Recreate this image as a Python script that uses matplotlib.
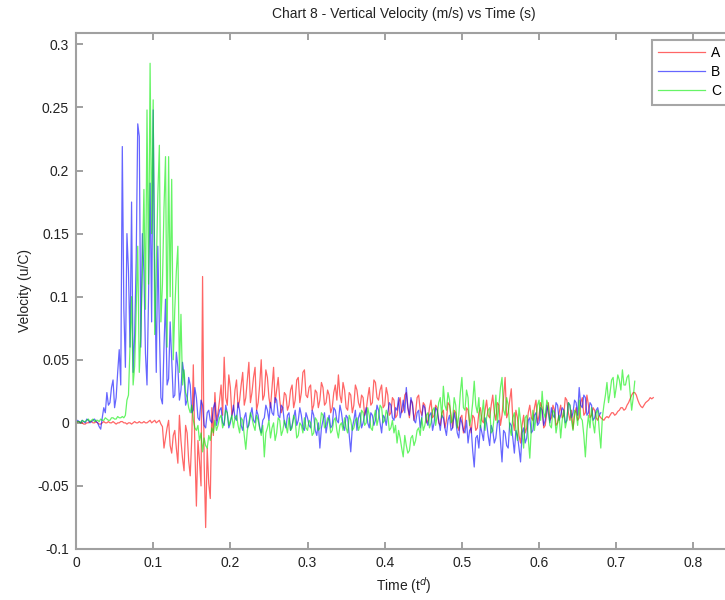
import numpy as np
import matplotlib
matplotlib.use("Agg")
import matplotlib.pyplot as plt
from matplotlib.ticker import FuncFormatter, MultipleLocator

plt.rcParams['font.family'] = ['Liberation Sans', 'DejaVu Sans']
plt.rcParams['axes.unicode_minus'] = False

# sample spacing of all three records (s)
dt = 0.002

# vertical velocity records, in thousandths
vel_a = [
    0, 1, 1, 0, 0, -1, -1, 0, 0, 1, 1, 0, 0, 1, 0, -1, -1, 0, 1, 0,
    0, 1, 0, 0, 1, 0, -1, 0, 0, 1, 1, 0, 0, -1, 0, 0, -1, 0, 1, 0,
    0, 1, 0, 0, 1, 0, 0, 1, 2, 0, 1, 2, 0, 1, 2, -1, -3, -20, -12, -4,
    2, -18, -24, -10, -6, -20, -32, 6, -14, -28, -38, -2, -8, -30, -42, -12, 46, -20, -66, -14,
    -30, -50, 116, -30, -83, -20, -48, -60, 12, -10, 24, 2, 8, 18, 30, 6, 52, 20, 14, 38,
    28, 6, 10, 26, 34, 12, 18, 30, 40, 14, 20, 34, 48, 16, 24, 36, 44, 10, 16, 30,
    50, 18, 22, 42, 36, 20, 12, 28, 44, 16, 26, 36, 18, 8, 12, 24, 22, 10, 14, 26,
    30, 12, 18, 34, 36, 16, 24, 40, 42, 22, 20, 28, 30, 10, 14, 26, 24, 12, 18, 32,
    28, 14, 16, 26, 22, 8, 12, 24, 30, 18, 38, 22, 16, 32, 26, 12, 10, 24, 22, 8,
    14, 30, 26, 16, 12, 22, 20, 6, 10, 20, 28, 14, 16, 34, 32, 20, 18, 26, 30, 12,
    14, 28, 22, 6, 8, 20, 18, 4, 6, 16, 20, 8, 10, 22, 24, 12, 4, 18, 16, 2,
    8, 20, 22, 10, 6, 16, 14, 0, 2, 12, 18, 4, 6, 14, 12, 0, -2, 8, 10, -4,
    2, 16, 14, 6, -4, 10, 8, -2, -6, 4, 6, -8, -2, 12, 10, 0, -8, 6, 4, -6,
    -4, 8, 12, 2, 0, 10, 18, 6, 4, 14, 22, 8, 2, 16, 14, -2, 6, 20, 36, 4,
    8, 18, 27, 2, -6, 10, 4, -10, -16, -2, 6, -8, -4, 8, 14, 4, 2, 12, 18, 0,
    6, 16, 12, -4, -2, 8, 16, 2, 4, 14, 10, -2, 0, 8, 14, 4, 6, 20, 18, 8,
    2, 10, -5, 6, 12, 2, 4, 16, 20, 6, 8, 22, 14, 4, 6, 12, 10, 4, 2, 6,
    4, 3, 2, 4, 5, 4, 6, 8, 8, 6, 7, 9, 10, 12, 12, 10, 11, 14, 16, 19,
    22, 24, 24, 22, 18, 15, 13, 12, 14, 16, 17, 18, 20, 19, 20,
]

vel_b = [
    0, 2, 1, 0, 2, 1, 0, 3, 2, 0, 1, 2, 3, 1, 0, -3, -5, 4, 12, 8,
    24, 14, 16, 28, 34, 12, 20, 40, 58, 30, 219, 90, 44, 150, 120, 60, 175, 40, 70, 130,
    237, 227, 60, 150, 120, 55, 30, 100, 190, 80, 248, 120, 40, 140, 76, 20, 15, 60, 98, 30,
    35, 80, 50, 20, 22, 56, 44, 18, 26, 48, 38, 14, 18, 36, 30, 8, 10, 28, 20, 4,
    2, 18, 14, -2, -4, 8, 10, 2, 0, 12, 16, -2, 4, 10, 12, 0, -2, 14, 8, -4,
    0, 6, 14, 4, 2, 16, 10, -2, -6, 4, 8, -4, -2, 6, 12, 2, 0, 10, 6, -4,
    -8, 2, 4, 14, 10, 2, 16, 8, 6, 20, 18, 6, 4, 14, 12, 0, -4, 6, 8, -6,
    -2, 4, 10, -2, 2, 12, 6, -4, -6, 8, 4, -2, -4, 10, 6, -6, -10, 0, -20, -4,
    2, 8, -8, 0, 6, -4, -2, 12, 10, 2, 0, 14, 8, -2, -6, 6, 4, -10, -23, -4,
    2, 10, -6, 4, 8, -4, 0, 6, 12, 0, -4, 8, 6, -2, 2, 14, 10, 0, -8, 6,
    4, -2, 8, 16, 14, 4, 2, 12, 10, 20, 4, 10, 18, 8, 28, 12, 6, 20, 14, 2,
    0, 8, 10, -4, 4, 14, 12, 2, -2, 6, 8, -6, 0, 12, 10, 2, -6, 6, 4, -4,
    -10, 2, 6, -6, -4, 8, 2, -8, -12, 4, 0, -6, -8, 2, -16, -6, -4, -22, -35, -12,
    -10, -20, -2, -8, -14, 4, 0, -10, -18, -2, -6, -16, -12, 0, 2, -14, -31, -6, -8, -18,
    -20, 0, -2, -12, -24, -6, -10, -20, -31, -8, -4, -16, -12, 2, 4, -8, -6, 6, 8, -2,
    0, 12, 10, -2, 2, 14, 8, 0, 12, 6, 4, 16, 14, 2, 6, 12, 10, 0, 2, 16,
    14, 4, 8, 18, 16, 6, 28, 14, 12, 22, 20, 6, 8, 16, 14, 2, 4, 10, 12, 6,
    8,
]

vel_c = [
    0, 1, 1, 0, 2, 1, 1, 2, 3, 1, 2, 3, 1, 2, 2, 1, 3, 2, 2, 4,
    3, 2, 2, 4, 4, 3, 3, 5, 4, 4, 5, 4, 6, 18, 22, 60, 100, 30, 45, 90,
    140, 40, 70, 120, 185, 90, 248, 110, 285, 150, 256, 70, 120, 180, 220, 80, 110, 170, 211, 60,
    211, 100, 193, 50, 90, 120, 140, 40, 86, 30, 42, 24, 20, 12, 8, 14, 2, -4, -6, -2,
    -14, -8, -23, -12, -18, -20, -10, -14, -4, -8, 2, -6, -2, 4, 6, -4, 0, 10, 8, -2,
    2, 6, -4, 4, 6, -2, -8, 4, 2, -10, -21, -6, 0, 8, 4, -2, -6, 6, 2, -4,
    -10, -2, -27, -8, -4, 2, -12, -4, 0, -14, -8, 4, 2, -10, -6, 2, -2, -8, 4, -6,
    -4, 6, 2, -12, -10, 0, -2, -8, 4, -4, -6, 2, 0, -10, -8, 4, 2, -6, -4, 8,
    6, -4, -2, 4, 2, -8, -6, 2, 4, -6, -12, -2, 0, -6, 4, -4, -8, 6, 2, -6,
    -4, 2, 4, -6, -2, 10, 8, -2, 0, 12, 6, -4, -6, 4, 10, -2, 4, 14, 12, 0,
    2, 10, 6, -6, -4, 2, -8, -2, -16, -6, -12, -20, -27, -10, -18, -24, -22, -12, -10, -18,
    -14, -6, -4, -10, 4, -6, -2, 6, 8, -4, 0, 10, 12, -2, 6, 16, 20, 4, 29, 14,
    10, 24, 18, 0, 2, 20, 14, -4, 6, 24, 36, 12, 10, 26, 20, -2, 4, 16, 33, 14,
    8, 20, -4, 6, 18, -6, 4, 10, 12, -8, -6, 6, 22, 0, 14, 28, 36, 10, 6, 20,
    14, -4, -10, 4, 8, -6, -14, 12, 2, -8, -20, 4, 6, -12, -28, -4, 10, -6, 4, 14,
    18, 2, 25, 8, 4, 18, 14, -2, -4, 10, 8, -8, 0, 6, -12, 2, 10, -4, 2, 16,
    14, 2, -6, 10, 8, -2, 18, 4, 2, -10, -27, -6, 6, -4, 12, 0, -8, 8, 10, -6,
    -20, 4, 14, 22, 32, 16, 24, 34, 36, 20, 28, 38, 34, 26, 42, 30, 30, 36, 38, 24,
    10, 20, 33,
]

series = [("A", vel_a, "red"), ("B", vel_b, "blue"), ("C", vel_c, "#00ee00")]

fig = plt.figure(figsize=(7.25, 6), dpi=100)
# axes box runs a little past the right edge of the figure
ax = fig.add_axes([76 / 725, 51 / 600, 656 / 725, 516 / 600])

for name, vals, col in series:
    v = np.array(vals) / 1000.0
    t = np.arange(len(v)) * dt
    ax.plot(t, v, color=col, lw=0.9, alpha=0.6, label=name)

ax.set_xlim(0, 0.85)
ax.set_ylim(-0.1, 0.309)
ax.xaxis.set_major_locator(MultipleLocator(0.1))
ax.yaxis.set_major_locator(MultipleLocator(0.05))
fmt = FuncFormatter(lambda x, pos: "%g" % round(x, 3))
ax.xaxis.set_major_formatter(fmt)
ax.yaxis.set_major_formatter(fmt)

for s in ax.spines.values():
    s.set_color("#a0a0a0")
    s.set_linewidth(1.5)
ax.tick_params(direction="in", top=True, right=True, length=5, width=1.2,
               color="#909090", labelsize=10, labelcolor="#222222", pad=5)

ax.set_title("Chart 8 - Vertical Velocity (m/s) vs Time (s)", fontsize=10,
             color="#222222", pad=11)
ax.set_xlabel("Time (t$^{d}$)", fontsize=10, color="#222222", labelpad=4)
ax.set_ylabel("Velocity (u/C)", fontsize=10, color="#222222", labelpad=4)

leg = ax.legend(loc="upper left", bbox_to_anchor=(652 / 725, 1 - 40 / 600),
                bbox_transform=fig.transFigure, fancybox=False, fontsize=10,
                handlelength=3.4, handletextpad=0.4, labelspacing=0.36,
                borderpad=0.45, borderaxespad=0)
leg.get_frame().set_edgecolor("#909090")
leg.get_frame().set_linewidth(1.5)
for line in leg.get_lines():
    line.set_alpha(0.6)

fig.savefig("out.png", dpi=100)
